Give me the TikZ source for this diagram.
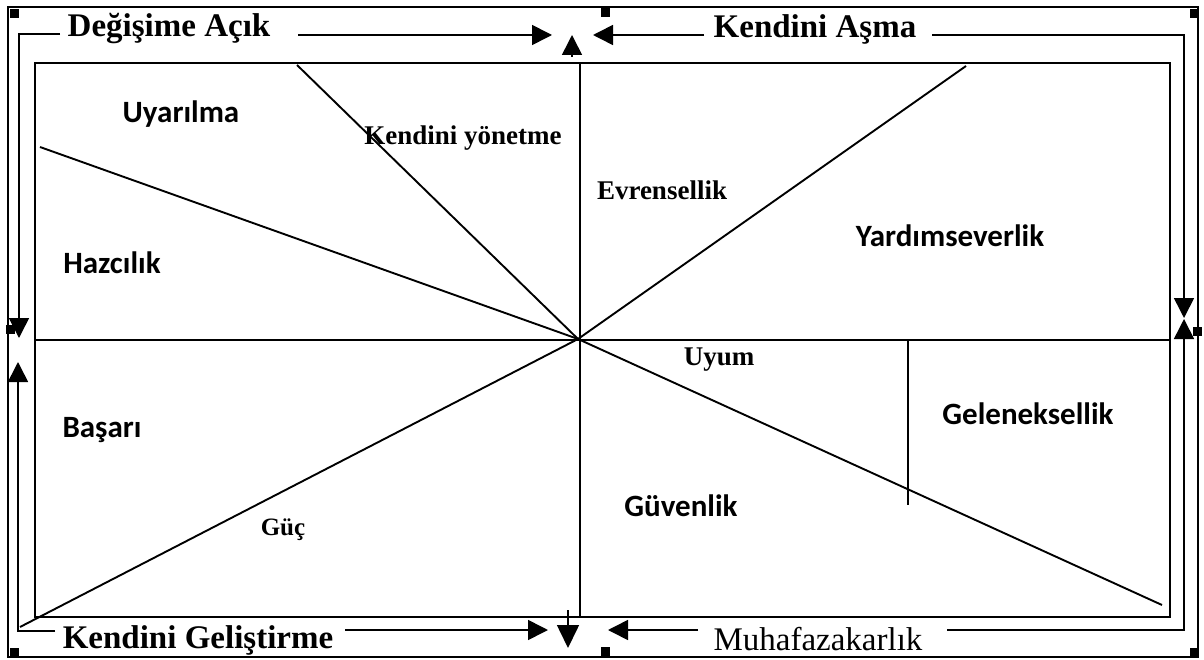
\documentclass[tikz,border=0pt]{standalone}
\usepackage{fontspec}
\setmainfont{Liberation Serif}
\newfontfamily\calfont{Carlito}
\usetikzlibrary{arrows.meta}

\begin{document}
\begin{tikzpicture}[x=1pt,y=-1pt,line width=1.6pt,
  tri/.style={-{Triangle[length=20pt,width=20pt]}},
  head/.style={font=\fontsize{33}{38}\selectfont\bfseries,anchor=base,inner sep=0pt},
  sname/.style={font=\calfont\fontsize{31}{36}\selectfont\bfseries,anchor=base,inner sep=0pt},
  rname/.style={font=\fontsize{27}{32}\selectfont\bfseries,anchor=base,inner sep=0pt}]
\useasboundingbox (0,0) rectangle (1204,660);
% outer frame and its handles
\draw[line width=1.2pt] (8,7) rectangle (1198,657);
\foreach \hx/\hy in {10/9,601/8,1190/9,6/325,1193/327,10/648,601/647,1190/648}
  \fill (\hx,\hy) rectangle ++(9,9);
% inner box and sectors
\draw (35,63) rectangle (1170,617);
\coordinate (c) at (578,339);
\draw (580,63) -- (580,617);
\draw (35,340) -- (1170,340);
\draw[line width=1.9pt] (40,147) -- (c);
\draw[line width=1.9pt] (297,65) -- (c);
\draw[line width=1.9pt] (c) -- (966,66);
\draw[line width=1.9pt] (20,627) -- (c);
\draw[line width=1.9pt] (c) -- (1162,605);
\draw (908,340) -- (908,505);
% value names
\node[sname] (uyar) at (181,123) {Uyarılma};
\node[sname] (haz) at (112,273) {Hazcılık};
\node[rname] (yonet) at (463,145) {Kendini yönetme};
\node[rname] (evren) at (662,200) {Evrensellik};
\node[sname] (yardim) at (950,247) {Yardımseverlik};
\node[rname] (uyum) at (719,365) {Uyum};
\node[sname] (gelenek) at (1028,424) {Geleneksellik};
\node[sname] (basari) at (102,437) {Başarı};
\node[sname] (guven) at (681,516) {Güvenlik};
\node[rname,font=\fontsize{25}{30}\selectfont\bfseries] (guc) at (283,535) {Güç};
% dimensions
\node[head] (open) at (169,37) {Değişime Açık};
\node[head] (trans) at (815,38) {Kendini Aşma};
\node[head] (enhance) at (198,648) {Kendini Geliştirme};
\node[head,font=\fontsize{33}{38}\selectfont] (conserv) at (818,650) {Muhafazakarlık};
% arrow frame
\coordinate (tl) at (19,34);
\coordinate (tlend) at (60,34);
\coordinate (ldown) at (19,338);
\coordinate (bl) at (18,631);
\coordinate (blend) at (55,631);
\coordinate (lup) at (18,362);
\coordinate (tr) at (1184,35);
\coordinate (trend) at (932,35);
\coordinate (rdown) at (1184,318);
\coordinate (br) at (1184,630);
\coordinate (brend) at (947,630);
\coordinate (rup) at (1184,319);
\draw[tri] (tlend) -- (tl) -- (ldown);
\draw[tri] (blend) -- (bl) -- (lup);
\draw[tri] (trend) -- (tr) -- (rdown);
\draw[tri] (brend) -- (br) -- (rup);
\coordinate (topr) at (298,35);
\coordinate (topra) at (552,35);
\coordinate (topl) at (704,35);
\coordinate (topla) at (593,35);
\coordinate (topu) at (572,57);
\coordinate (topua) at (572,35);
\draw[tri] (topr) -- (topra);
\draw[tri] (topl) -- (topla);
\draw[tri] (topu) -- (topua);
\coordinate (botr) at (345,630);
\coordinate (botra) at (548,630);
\coordinate (botl) at (698,630);
\coordinate (botla) at (608,630);
\coordinate (botd) at (568,610);
\coordinate (botda) at (568,648);
\draw[tri] (botr) -- (botra);
\draw[tri] (botl) -- (botla);
\draw[-{Triangle[length=23pt,width=22pt]}] (botd) -- (botda);
\end{tikzpicture}
\end{document}
